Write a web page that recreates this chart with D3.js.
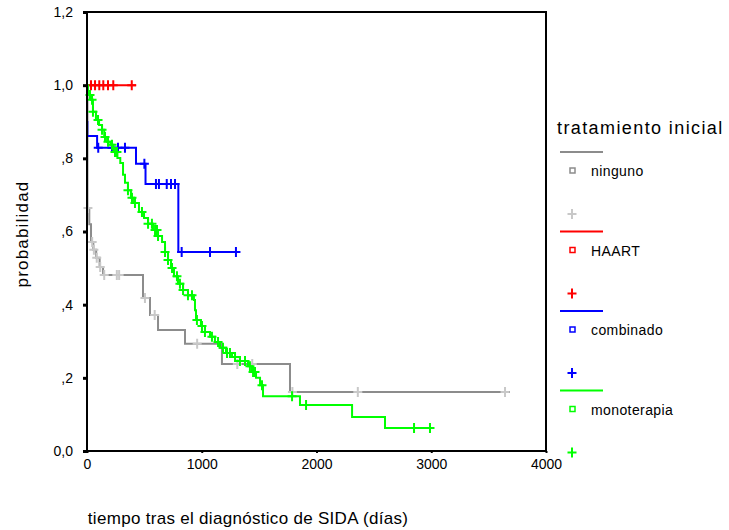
<!DOCTYPE html>
<html lang="es">
<head>
<meta charset="UTF-8" />
<title>Supervivencia</title>
<style>
  body { margin: 0; background: #fff; }
  text { font-family: "Liberation Sans", Arial, sans-serif; }
</style>
</head>
<body>
<svg id="svg" width="729" height="530"></svg>
<script src="https://cdn.jsdelivr.net/npm/d3@7"></script>
<script>
// curve data: [days, probability] at each step, censored times, last time
const groups = ["ninguno", "HAART", "combinado", "monoterapia"];

const ningunoSteps = [[0, 1.0], [4, 0.664], [20, 0.62], [35, 0.571], [55, 0.55], [80, 0.528],
  [110, 0.503], [140, 0.481], [488, 0.418], [549, 0.372], [619, 0.331], [854, 0.293],
  [1176, 0.238], [1769, 0.161]];
const ningunoCensored = [8, 45, 60, 85, 115, 150, 260, 280, 505, 590, 960, 1310, 1440, 1790, 2360, 3643];
const ningunoEnd = 3686;

const haartSteps = [[0, 1.0]];
const haartCensored = [35, 70, 107, 142, 183, 229, 390];
const haartEnd = 427;

const combinadoSteps = [[0, 0.899], [3, 0.861], [88, 0.829], [427, 0.785], [510, 0.73], [796, 0.544]];
const combinadoCensored = [98, 218, 270, 331, 500, 601, 627, 695, 732, 767, 825, 1072, 1298];
const combinadoEnd = 1320;

const monoterapiaSteps = [[0, 1.0], [9, 0.973], [35, 0.96], [52, 0.927], [78, 0.905], [105, 0.891],
  [131, 0.878], [150, 0.858], [175, 0.845], [205, 0.837], [230, 0.817], [265, 0.801],
  [290, 0.787], [314, 0.755], [331, 0.733], [357, 0.713], [383, 0.692], [410, 0.678],
  [453, 0.653], [497, 0.637], [532, 0.621], [575, 0.604], [615, 0.588], [654, 0.571],
  [680, 0.544], [706, 0.522], [732, 0.5], [758, 0.478], [793, 0.457], [837, 0.44],
  [880, 0.426], [932, 0.413], [941, 0.385], [950, 0.358], [993, 0.342], [1028, 0.325],
  [1072, 0.312], [1115, 0.298], [1159, 0.282], [1211, 0.268], [1264, 0.257], [1333, 0.246],
  [1403, 0.232], [1438, 0.216], [1473, 0.2], [1508, 0.18], [1534, 0.15], [1856, 0.126],
  [2310, 0.093], [2597, 0.063]];
const monoterapiaCensored = [26, 44, 52, 96, 131, 157, 183, 218, 244, 261, 357, 392, 418, 479,
  532, 566, 593, 610, 619, 680, 706, 741, 784, 810, 837, 880, 915, 958, 1002, 1028, 1089,
  1142, 1185, 1220, 1246, 1290, 1333, 1377, 1420, 1447, 1464, 1525, 1787, 1909, 2850, 2989];
const monoterapiaEnd = 3015;

const xTicks = [0, 1000, 2000, 3000, 4000];
const yTicks = [0, 0.2, 0.4, 0.6, 0.8, 1.0, 1.2];
const yTickLabels = ["0,0", ",2", ",4", ",6", ",8", "1,0", "1,2"];

const series = [
  { steps: ningunoSteps, censored: ningunoCensored, end: ningunoEnd },
  { steps: haartSteps, censored: haartCensored, end: haartEnd },
  { steps: combinadoSteps, censored: combinadoCensored, end: combinadoEnd },
  { steps: monoterapiaSteps, censored: monoterapiaCensored, end: monoterapiaEnd }
];
const lineColors = ["#8c8c8c", "#ff0000", "#0000ff", "#00ff00"];
const censorColors = ["#c8c8c8", "#ff0000", "#0000ff", "#00ff00"];

const svg = d3.select("#svg");
const pLeft = 87, pRight = 546, pTop = 12, pBottom = 451;

const x = d3.scaleLinear().domain([0, 4000]).range([pLeft, pRight]);
const y = d3.scaleLinear().domain([0, 1.2]).range([pBottom, pTop]);

const line = d3.line()
  .x(d => x(d[0]))
  .y(d => y(d[1]))
  .curve(d3.curveStepAfter);

function survAt(steps, t) {
  let s = steps[0][1];
  steps.forEach(d => { if (d[0] <= t) s = d[1]; });
  return s;
}

series.forEach((d, i) => {
  const pts = d.steps.concat([[d.end, d.steps[d.steps.length - 1][1]]]);
  svg.append("path")
    .attr("d", line(pts))
    .attr("fill", "none")
    .attr("stroke", lineColors[i])
    .attr("stroke-width", 2);

  svg.append("g")
    .selectAll("path")
    .data(d.censored)
    .enter()
    .append("path")
    .attr("transform", t => `translate(${x(t)},${y(survAt(d.steps, t))})`)
    .attr("d", "M-4.5,0H4.5M0,-5V5")
    .attr("stroke", censorColors[i])
    .attr("stroke-width", 2)
    .attr("fill", "none");
});

// axes
const yAxis = svg.append("g")
  .attr("transform", `translate(${pLeft},0)`)
  .call(d3.axisLeft(y).tickValues(yTicks).tickSize(4).tickPadding(10)
    .tickFormat((v, i) => yTickLabels[i]));
yAxis.select(".domain").remove();
yAxis.selectAll("line").attr("stroke", "#000").attr("stroke-width", 3);
yAxis.selectAll("text").attr("font-size", 14).attr("fill", "#000")
  .attr("font-family", "Liberation Sans, Arial, sans-serif");

const xAxis = svg.append("g")
  .attr("transform", `translate(0,${pBottom})`)
  .call(d3.axisBottom(x).tickValues(xTicks).tickSize(2).tickPadding(6)
    .tickFormat(d3.format("d")));
xAxis.select(".domain").remove();
xAxis.selectAll("line").attr("stroke", "#000").attr("stroke-width", 2);
xAxis.selectAll("text").attr("font-size", 14).attr("fill", "#000")
  .attr("font-family", "Liberation Sans, Arial, sans-serif");

// frame
svg.append("rect")
  .attr("x", pLeft).attr("y", pTop)
  .attr("width", pRight - pLeft).attr("height", pBottom - pTop)
  .attr("fill", "none").attr("stroke", "#000").attr("stroke-width", 2);

// axis titles
svg.append("text")
  .attr("transform", "translate(28,234) rotate(-90)")
  .attr("text-anchor", "middle")
  .attr("font-size", 17)
  .attr("letter-spacing", 1.2)
  .text("probabilidad");

svg.append("text")
  .attr("x", 248).attr("y", 524)
  .attr("text-anchor", "middle")
  .attr("font-size", 17)
  .attr("letter-spacing", 0.3)
  .text("tiempo tras el diagnóstico de SIDA (días)");

// legend
const legend = svg.append("g");
legend.append("text")
  .attr("x", 557).attr("y", 134)
  .attr("font-size", 18)
  .attr("letter-spacing", 1.4)
  .text("tratamiento inicial");

groups.forEach((g, i) => {
  const ly = 152 + i * 79.5;
  legend.append("line")
    .attr("x1", 560).attr("x2", 603).attr("y1", ly).attr("y2", ly)
    .attr("stroke", lineColors[i]).attr("stroke-width", 2);
  legend.append("rect")
    .attr("x", 570).attr("y", ly + 16).attr("width", 5).attr("height", 5)
    .attr("fill", "none").attr("stroke", lineColors[i]).attr("stroke-width", 1.5);
  legend.append("text")
    .attr("x", 591).attr("y", ly + 24)
    .attr("font-size", 14)
    .attr("letter-spacing", 0.4)
    .text(g);
  legend.append("path")
    .attr("transform", `translate(572,${ly + 62})`)
    .attr("d", "M-4.5,0H4.5M0,-5V5")
    .attr("stroke", censorColors[i]).attr("stroke-width", 2);
});
</script>
</body>
</html>
